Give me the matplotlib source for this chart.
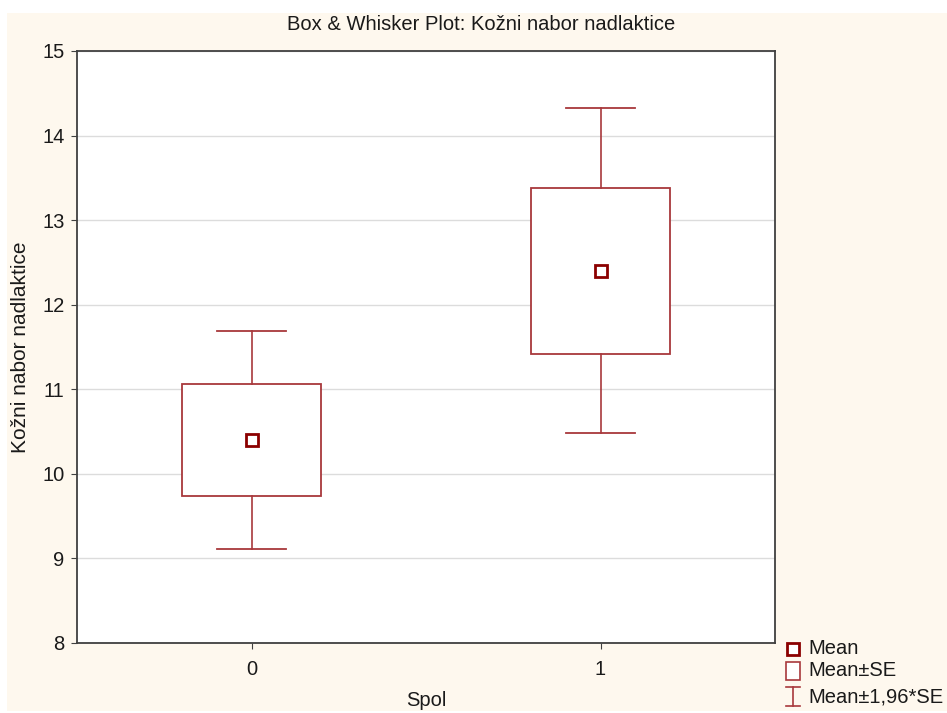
import matplotlib
matplotlib.use("Agg")
import matplotlib.pyplot as plt
from matplotlib.patches import Rectangle
from matplotlib.lines import Line2D

plt.rcParams['font.family'] = ['Liberation Sans', 'DejaVu Sans']

# Data
categories = ["0", "1"]
means = [10.40, 12.40]
se = [0.66, 0.98]
z = 1.96
yticks = [8, 9, 10, 11, 12, 13, 14, 15]

W, H = 947, 713
fig = plt.figure(figsize=(W / 100, H / 100), dpi=100, facecolor='white')

# cream background panel
fig.patches.append(Rectangle((7 / W, 2 / H), 940 / W, (711 - 13) / H,
                             transform=fig.transFigure, facecolor='#FEF8EE',
                             edgecolor='none', zorder=-10))

ax = fig.add_axes([77 / W, (H - 643) / H, 698 / W, 592 / H])
ax.set_facecolor('white')

box_col = '#A8383C'
mean_col = '#8B0000'
text_col = '#1A1A1A'

x = list(range(len(categories)))
for xi, m, s in zip(x, means, se):
    # Mean ± SE box
    ax.add_patch(Rectangle((xi - 0.2, m - s), 0.4, 2 * s, facecolor='white',
                           edgecolor=box_col, linewidth=1.3, zorder=3))
    lo, hi = m - z * s, m + z * s
    ax.plot([xi, xi], [m + s, hi], color=box_col, lw=1.2, zorder=3)
    ax.plot([xi, xi], [m - s, lo], color=box_col, lw=1.2, zorder=3)
    ax.plot([xi - 0.1, xi + 0.1], [hi, hi], color=box_col, lw=1.3, zorder=3)
    ax.plot([xi - 0.1, xi + 0.1], [lo, lo], color=box_col, lw=1.3, zorder=3)
    ax.plot([xi], [m], marker='s', ms=8, mfc='white', mec=mean_col, mew=2.0,
            zorder=4, ls='none')

ax.set_xlim(-0.5, 1.5)
ax.set_ylim(8, 15)
ax.set_xticks(x)
ax.set_xticklabels(categories)
ax.set_yticks(yticks)
ax.set_yticklabels([str(t) for t in yticks])
ax.yaxis.grid(True, color='#DCDCDC', lw=1.0, zorder=0)
ax.set_axisbelow(True)
for sp in ax.spines.values():
    sp.set_color('#404040')
    sp.set_linewidth(1.3)
ax.tick_params(axis='both', direction='out', length=4, color='#404040',
               labelsize=14.5, labelcolor=text_col, pad=5)
ax.tick_params(axis='x', pad=8)

fig.text(481 / W, 1 - 24 / H, 'Box & Whisker Plot: Kožni nabor nadlaktice',
         ha='center', va='center', fontsize=14.5, color=text_col)
fig.text(426 / W, 1 - 700 / H, 'Spol', ha='center', va='center',
         fontsize=14.5, color=text_col)
fig.text(21 / W, 1 - 347 / H, 'Kožni nabor nadlaktice', ha='center',
         va='center', rotation=90, fontsize=15, color=text_col)

# Legend (manual)
def fx(px):
    return px / W

def fy(py):
    return 1 - py / H

fig.add_artist(Line2D([fx(793)], [fy(649)], marker='s', ms=8, mfc='white',
                      mec=mean_col, mew=2.0, ls='none',
                      transform=fig.transFigure))
fig.text(fx(808), fy(649), 'Mean', ha='left', va='center', fontsize=14.5,
         color=text_col)
fig.patches.append(Rectangle((fx(786), fy(680)), 14 / W, 18 / H,
                             transform=fig.transFigure, facecolor='white',
                             edgecolor=box_col, lw=1.2))
fig.text(fx(808), fy(671), 'Mean±SE', ha='left', va='center', fontsize=14.5,
         color=text_col)
for seg in ([(786, 687), (800, 687)], [(786, 706), (800, 706)],
            [(793, 687), (793, 706)]):
    (x0, y0), (x1, y1) = seg
    fig.add_artist(Line2D([fx(x0), fx(x1)], [fy(y0), fy(y1)], color=box_col,
                          lw=1.2, transform=fig.transFigure))
fig.text(fx(808), fy(697), 'Mean±1,96*SE', ha='left', va='center',
         fontsize=14.5, color=text_col)

fig.savefig('out.png', dpi=100, facecolor='white')
